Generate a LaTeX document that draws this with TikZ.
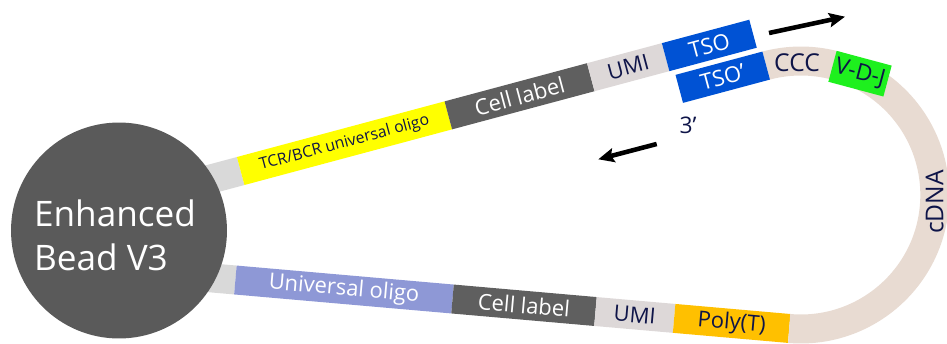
\documentclass[tikz,border=0pt]{standalone}
\usepackage{fontspec}
\setmainfont{Open Sans}
\usetikzlibrary{calc, arrows.meta}
\definecolor{BeadGray}{RGB}{90,90,90}
\definecolor{StubGray}{RGB}{217,217,217}
\definecolor{OligoYellow}{RGB}{255,255,0}
\definecolor{LabelGray}{RGB}{95,95,95}
\definecolor{UMIGray}{RGB}{221,216,216}
\definecolor{TSOBlue}{RGB}{0,82,212}
\definecolor{cDNABeige}{RGB}{232,219,210}
\definecolor{VDJGreen}{RGB}{30,240,30}
\definecolor{PolyOrange}{RGB}{255,192,0}
\definecolor{OligoLavender}{RGB}{142,152,214}
\definecolor{TextNavy}{RGB}{14,20,72}

\begin{document}
\begin{tikzpicture}[x=0.02cm, y=0.02cm,
  seg/.style={rectangle, inner sep=0pt, outer sep=0pt, minimum height=0.58cm, font=\fontsize{12.5}{14}\selectfont, text=TextNavy},
  topseg/.style={seg, anchor=west, rotate=15},
  botseg/.style={seg, anchor=west, rotate=-5},
  flow/.style={-{Stealth[length=9pt, width=8pt, inset=1.5pt]}, line width=2.6pt, black},
  lbl/.style={font=\fontsize{14}{16}\selectfont, text=TextNavy, inner sep=0pt}
]
\useasboundingbox (0,0) rectangle (947,343);

% upper strand
\node[seg, anchor=east, rotate=15, fill=StubGray, minimum width=1.4cm] (stubA) at (240.7,172) {};
\node[topseg, fill=OligoYellow, minimum width=4.30cm, font=\fontsize{9}{11}\selectfont] (tcr) at (240.7,172) {TCR/BCR universal oligo};
\node[topseg, fill=LabelGray, minimum width=2.95cm, text=white] (cellA) at (tcr.east) {Cell label};
\node[topseg, fill=UMIGray, minimum width=1.55cm] (umiA) at (cellA.east) {UMI};
\node[topseg, fill=TSOBlue, minimum width=1.81cm, text=white] (tso) at (umiA.east) {TSO};

% lower strand
\node[seg, anchor=east, rotate=-5, fill=StubGray, minimum width=1.4cm] (stubB) at (235.4,63) {};
\node[botseg, fill=OligoLavender, minimum width=4.36cm, text=white] (univ) at (235.4,63) {Universal oligo};
\node[botseg, fill=LabelGray, minimum width=2.87cm, text=white] (cellB) at (univ.east) {Cell label};
\node[botseg, fill=UMIGray, minimum width=1.58cm] (umiB) at (cellB.east) {UMI};
\node[botseg, fill=PolyOrange, minimum width=2.31cm] (poly) at (umiB.east) {Poly(T)};

% cDNA loop
\coordinate (loop) at ($(poly.east)+(85:2.68cm)$);
\draw[cDNABeige, line width=0.58cm] (poly.east) arc[start angle=-95, end angle=105, radius=2.68cm];
\node[seg, anchor=east, rotate=15, fill=TSOBlue, minimum width=1.80cm, text=white] (tsop) at ($(loop)+(105:2.68cm)$) {TSO’};
\node[lbl] (ccc) at (797,280) {CCC};
\node[seg, fill=VDJGreen, minimum width=1.14cm, minimum height=0.64cm, rotate=-15, font=\fontsize{13}{15}\selectfont] (vdj) at ($(loop)+(64:2.7cm)$) {V-D-J};
\node[lbl, rotate=90] (cdna) at ($(loop)+(-3:2.68cm)$) {cDNA};
\node[lbl, font=\fontsize{13}{15}\selectfont] (three) at (688,218) {3’};

% bead
\node[circle, fill=BeadGray, minimum size=4.32cm, inner sep=0pt] (bead) at (119,112.5) {};
\node[text=white, align=left, inner sep=0pt, font=\fontsize{20}{25}\selectfont] (beadname) at ($(bead.center)+(-4,-5)$) {Enhanced\\Bead V3};

% extension arrows
\coordinate (fwdA) at (769,310);
\coordinate (fwdB) at (845,326.3);
\draw[flow] (fwdA) -- (fwdB);
\coordinate (revA) at (656.7,199);
\coordinate (revB) at (598.3,183.7);
\draw[flow] (revA) -- (revB);
\end{tikzpicture}
\end{document}
